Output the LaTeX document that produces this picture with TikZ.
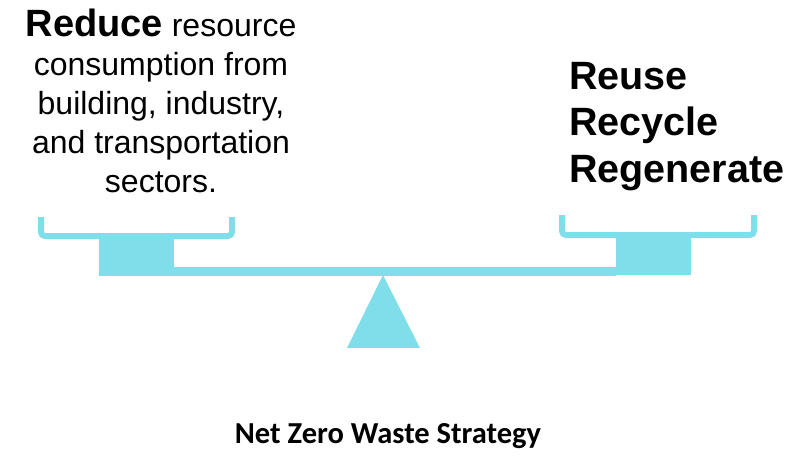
\documentclass[tikz,border=0pt]{standalone}
\usepackage{fontspec}
\setmainfont{Liberation Sans}
\newfontfamily\titlefont{Carlito}
\usepackage{xcolor}
\definecolor{seesaw}{HTML}{80DEEA}
\tikzset{
  balance part/.style = {fill=seesaw, draw=none}
}
\tikzset{
  pan rim/.style = {draw=seesaw, line width=6pt, rounded corners=4pt}
}
\tikzset{
  every node/.style = {inner sep=0pt}
}
\newcommand{\drawpan}[5]{
  \draw[pan rim] (#1,#3) |- (#2,#4) -- (#2,#3);
  \fill[balance part] (#5,{#4+3}) rectangle ++(75,37);
}

\begin{document}
\begin{tikzpicture}[x=1pt, y=-1pt]
  \useasboundingbox (0,0) rectangle (796,463);

  \drawpan{41}{232}{217}{236}{99}
  \drawpan{562}{754}{215}{235}{616}

  % beam and pivot
  \fill[balance part] (174,267) rectangle (616,276);
  \fill[balance part] (383,275) -- (420,348) -- (347,348) -- cycle;

  \node[anchor=north, align=center, font=\fontsize{32}{39}\selectfont]
    (reduce) at (161,9)
    {{\fontsize{38}{39}\selectfont\bfseries Reduce} resource\\
     consumption from\\building, industry,\\and transportation\\sectors.};

  \node[anchor=north west, align=left,
    font=\fontsize{39.5}{46.5}\selectfont\bfseries]
    (reuse) at (569,62) {Reuse\\Recycle\\Regenerate};

  \node[anchor=base, font=\titlefont\bfseries\fontsize{30.5}{34}\selectfont]
    (title) at (388,443) {Net Zero Waste Strategy};
\end{tikzpicture}
\end{document}
